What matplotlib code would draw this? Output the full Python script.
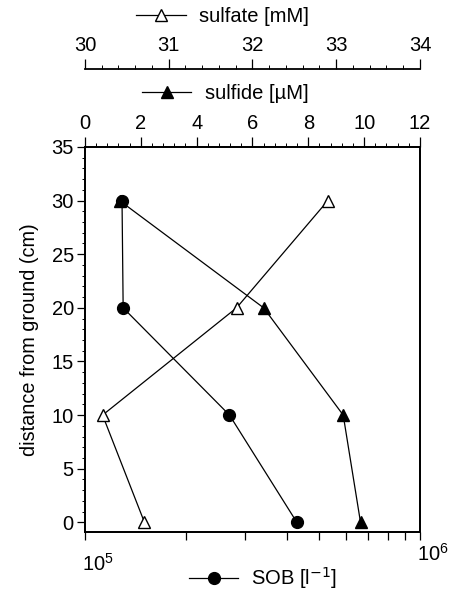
import matplotlib
matplotlib.use("Agg")
import matplotlib.pyplot as plt
import matplotlib.transforms as mtransforms
from matplotlib.ticker import MultipleLocator, LogLocator, NullFormatter

plt.rcParams['font.family'] = ['Liberation Sans', 'DejaVu Sans']

# data
depth = [30, 20, 10, 0]
sob = [1.29e5, 1.30e5, 2.70e5, 4.29e5]       # SOB [l^-1], log axis
sulfide = [1.24, 6.4, 9.25, 9.87]            # sulfide [µM]
sulfate = [32.90, 31.81, 30.21, 30.71]       # sulfate [mM]

fig = plt.figure(figsize=(4.53, 5.96), dpi=100)
ax = fig.add_axes([0.1876, 0.1074, 0.7395, 0.646])

# --- SOB on bottom log axis
l_sob, = ax.plot(sob, depth, color='black', lw=0.9, marker='o', ms=8.5,
                 mfc='black', mec='black', label='SOB [l$^{-1}$]', zorder=3)
ax.set_xscale('log')
ax.set_xlim(1e5, 1e6)
ax.set_ylim(-0.9, 35)
ax.xaxis.set_major_locator(LogLocator(base=10, numticks=5))
ax.xaxis.set_minor_locator(LogLocator(base=10, subs=range(2, 10), numticks=12))
ax.xaxis.set_minor_formatter(NullFormatter())
ax.tick_params(axis='x', which='both', direction='out', length=6, width=0.9,
               labelsize=14.5, pad=9)
ax.yaxis.set_major_locator(MultipleLocator(5))
ax.yaxis.set_minor_locator(MultipleLocator(1))
ax.tick_params(axis='y', which='major', direction='out', length=5.5, width=0.9,
               labelsize=14.5, pad=2.5)
ax.tick_params(axis='y', which='minor', direction='out', length=2.5, width=0.7)
ax.set_ylabel('distance from ground (cm)', fontsize=14.3, labelpad=9)
for s in ax.spines.values():
    s.set_linewidth(1.3)

# shift log labels to the right (and 10^6 a bit up) like the original
fig.canvas.draw()
for val, lab in zip(ax.get_xticks(), ax.get_xticklabels()):
    dy = 7 / 72 if val >= 1e6 else 0
    off = mtransforms.ScaledTranslation(9 / 72, dy, fig.dpi_scale_trans)
    lab.set_transform(lab.get_transform() + off)

# --- sulfide on top axis
ax2 = ax.twiny()
l_sulfide, = ax2.plot(sulfide, depth, color='black', lw=0.9, marker='^', ms=8.5,
                      mfc='black', mec='black', label='sulfide [µM]', zorder=3)
ax2.set_xlim(0, 12)
ax2.xaxis.set_major_locator(MultipleLocator(2))
ax2.xaxis.set_minor_locator(MultipleLocator(0.4))
ax2.tick_params(axis='x', which='major', direction='out', length=7, width=0.9,
                labelsize=14.5, pad=3)
ax2.tick_params(axis='x', which='minor', direction='out', length=3, width=0.7)
for s in ax2.spines.values():
    s.set_linewidth(1.3)

# --- sulfate on a second top axis, pushed upwards
ax3 = ax.twiny()
l_sulfate, = ax3.plot(sulfate, depth, color='black', lw=0.9, marker='^', ms=8.5,
                      mfc='white', mec='black', label='sulfate [mM]', zorder=3)
ax3.set_xlim(30, 34)
ax3.spines['top'].set_position(('outward', 56))
for side in ['left', 'right', 'bottom']:
    ax3.spines[side].set_visible(False)
ax3.spines['top'].set_linewidth(1.3)
ax3.xaxis.set_major_locator(MultipleLocator(1))
ax3.xaxis.set_minor_locator(MultipleLocator(0.2))
ax3.tick_params(axis='x', which='major', direction='out', length=7, width=0.9,
                labelsize=14.5, pad=3)
ax3.tick_params(axis='x', which='minor', direction='out', length=3, width=0.7)

# legend-style axis titles
leg_kw = dict(frameon=False, fontsize=14.5, handlelength=2.45, handletextpad=0.65,
              borderpad=0, borderaxespad=0, loc='center')
fig.legend(handles=[l_sulfate], bbox_to_anchor=(0.491, 0.973), **leg_kw)
fig.legend(handles=[l_sulfide], bbox_to_anchor=(0.497, 0.843), **leg_kw)
fig.legend(handles=[l_sob], bbox_to_anchor=(0.581, 0.030), **leg_kw)

plt.savefig("out.png", dpi=100)
